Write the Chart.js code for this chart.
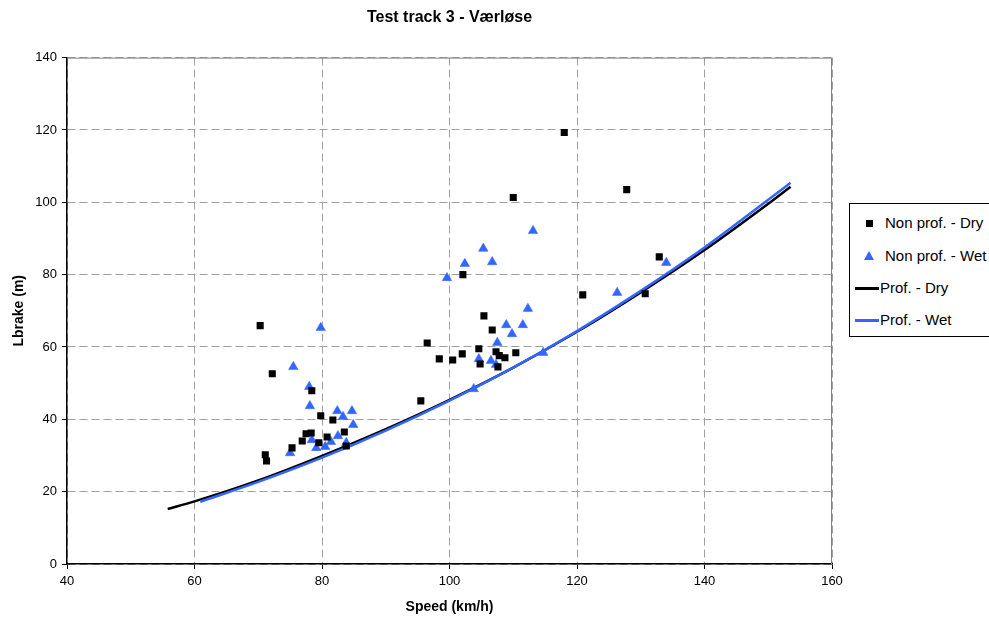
<!DOCTYPE html>
<html>
<head>
<meta charset="utf-8">
<script src="https://cdn.jsdelivr.net/npm/chart.js@4/dist/chart.umd.min.js"></script>
<style>
    html, body { margin: 0; padding: 0; background: #fff; overflow: hidden; }
    #wrap { position: relative; width: 989px; height: 621px; }
    #legend {
        position: absolute; left: 849px; top: 203px; width: 170px; height: 134px;
        border: 1px solid #000; box-sizing: border-box; background: #fff;
        font-family: 'Liberation Sans', Arial, sans-serif; font-size: 15px; color: #000;
    }
    .item { position: absolute; left: 0; height: 18px; line-height: 18px; white-space: nowrap; }
    .item span.txt { position: absolute; top: 0; }
</style>
</head>
<body>
<div id="wrap">
    <canvas id="brakeChart" width="989" height="621"></canvas>
    <div id="legend"></div>
</div>
<script>
// Non professional drivers, dry road
const dryNonProfSpeed = [70.3, 72.2, 71.1, 71.3, 75.3, 76.9, 77.5, 78.3, 78.4, 79.8, 80.8, 81.7, 83.5, 79.5, 83.8,
    95.5, 96.5, 98.4, 100.5, 102.0, 102.1, 104.6, 104.8, 105.4, 106.7, 107.3, 107.6, 107.8, 108.7, 110.0, 110.4,
    118.0, 120.9, 127.8, 130.7, 132.9];
const dryNonProfBrake = [65.9, 52.6, 30.2, 28.5, 32.1, 34.0, 36.0, 36.2, 47.9, 41.0, 35.1, 39.8, 36.5, 33.5, 32.6,
    45.1, 61.1, 56.7, 56.4, 58.1, 80.0, 59.5, 55.3, 68.6, 64.7, 58.7, 54.5, 57.6, 57.0, 101.3, 58.4,
    119.3, 74.4, 103.5, 74.7, 84.9];

// Non professional drivers, wet road
const wetNonProfSpeed = [75.0, 75.5, 78.0, 78.1, 78.4, 79.1, 79.8, 80.5, 81.4, 82.4, 82.5, 83.3, 83.8, 84.7, 84.9,
    99.6, 102.4, 103.8, 104.6, 105.3, 106.5, 106.7, 107.3, 107.5, 108.9, 109.8, 111.5, 112.3, 113.1, 114.7,
    126.3, 134.0];
const wetNonProfBrake = [30.7, 54.5, 49.0, 43.7, 34.3, 32.1, 65.3, 32.4, 33.8, 42.3, 35.4, 40.7, 33.5, 42.3, 38.5,
    79.1, 83.0, 48.4, 56.7, 87.2, 56.2, 83.5, 55.1, 61.2, 66.1, 63.6, 66.1, 70.6, 92.1, 58.4,
    75.0, 83.3];

// Professional drivers (curves)
const dryProfSpeed = [55.8, 60, 70, 80, 90, 100, 110, 120, 130, 140, 150, 153.5];
const dryProfBrake = [15.2, 17.3, 23.1, 29.9, 37.3, 45.4, 54.3, 64.2, 75.1, 86.8, 99.6, 104.3];
const wetProfSpeed = [60.9, 70, 80, 90, 100, 110, 120, 130, 140, 150, 153.5];
const wetProfBrake = [17.2, 22.7, 29.4, 36.9, 45.2, 54.3, 64.4, 75.5, 87.5, 100.7, 105.4];

const seriesNames = ['Non prof. - Dry', 'Non prof. - Wet', 'Prof. - Dry', 'Prof. - Wet'];

const toPoints = (xs, ys) => xs.map((x, i) => ({ x: x, y: ys[i] }));

const BLUE = '#3366FF';
const FONT = "'Liberation Sans', Arial, sans-serif";

// gray frame around the plot area (Excel style)
const plotFrame = {
    id: 'plotFrame',
    beforeDatasetsDraw(chart) {
        const a = chart.chartArea;
        const ctx = chart.ctx;
        ctx.save();
        ctx.strokeStyle = '#808080';
        ctx.lineWidth = 1;
        ctx.beginPath();
        ctx.moveTo(a.left, a.top + 0.5);
        ctx.lineTo(a.right - 0.5, a.top + 0.5);
        ctx.lineTo(a.right - 0.5, a.bottom);
        ctx.stroke();
        ctx.restore();
    }
};

const ctx = document.getElementById('brakeChart').getContext('2d');
const chart = new Chart(ctx, {
    type: 'scatter',
    data: {
        datasets: [
            {
                label: seriesNames[0],
                data: toPoints(dryNonProfSpeed, dryNonProfBrake),
                pointStyle: 'rect',
                pointRadius: 5,
                pointBorderWidth: 0,
                backgroundColor: '#000',
                borderColor: '#000',
                order: 0
            },
            {
                label: seriesNames[1],
                data: toPoints(wetNonProfSpeed, wetNonProfBrake),
                pointStyle: 'triangle',
                pointRadius: 5.5,
                pointBorderWidth: 0.5,
                backgroundColor: BLUE,
                borderColor: BLUE,
                order: 0
            },
            {
                label: seriesNames[2],
                data: toPoints(dryProfSpeed, dryProfBrake),
                showLine: true,
                borderColor: '#000',
                borderWidth: 2.5,
                pointRadius: 0,
                tension: 0.4,
                cubicInterpolationMode: 'monotone',
                order: 2
            },
            {
                label: seriesNames[3],
                data: toPoints(wetProfSpeed, wetProfBrake),
                showLine: true,
                borderColor: BLUE,
                borderWidth: 2.5,
                pointRadius: 0,
                tension: 0.4,
                cubicInterpolationMode: 'monotone',
                order: 1
            }
        ]
    },
    options: {
        responsive: false,
        animation: false,
        layout: {
            padding: { left: 0, right: 157, top: 0, bottom: 0 }
        },
        scales: {
            x: {
                type: 'linear',
                min: 40,
                max: 160,
                ticks: {
                    stepSize: 20,
                    color: '#000',
                    padding: 5,
                    font: { family: FONT, size: 13 }
                },
                grid: {
                    color: '#a0a0a0',
                    lineWidth: 1,
                    tickColor: '#000',
                    tickLength: 5,
                    tickBorderDash: []
                },
                border: { display: true, color: '#000', width: 1.5, dash: [8, 4] },
                title: {
                    display: true,
                    text: 'Speed (km/h)',
                    color: '#000',
                    font: { family: FONT, size: 14, weight: 'bold' },
                    padding: { top: 0, bottom: 5 }
                },
                afterFit(scale) { scale.height = 57; }
            },
            y: {
                type: 'linear',
                min: 0,
                max: 140,
                ticks: {
                    stepSize: 20,
                    color: '#000',
                    padding: 5,
                    font: { family: FONT, size: 13 }
                },
                grid: {
                    color: '#a0a0a0',
                    lineWidth: 1,
                    tickColor: '#000',
                    tickLength: 5,
                    tickBorderDash: []
                },
                border: { display: true, color: '#000', width: 1.5, dash: [8, 4] },
                title: {
                    display: true,
                    text: 'Lbrake (m)',
                    color: '#000',
                    font: { family: FONT, size: 14, weight: 'bold' },
                    padding: { top: 11, bottom: 0 }
                },
                afterFit(scale) { scale.width = 67; }
            }
        },
        plugins: {
            legend: { display: false },
            tooltip: { enabled: false },
            title: {
                display: true,
                fullSize: false,
                text: 'Test track 3 - Værløse',
                color: '#000',
                font: { family: FONT, size: 16, weight: 'bold' },
                padding: { top: 7.5, bottom: 30.9 }
            }
        }
    },
    plugins: [plotFrame]
});

// HTML legend built from the datasets
const legendEl = document.getElementById('legend');
const rowTops = [10, 43, 75, 107];
chart.data.datasets.forEach((ds, i) => {
    const row = document.createElement('div');
    row.className = 'item';
    row.style.top = rowTops[i] + 'px';
    let marker;
    if (i === 0) {
        marker = '<span style="position:absolute;left:16px;top:6px;width:7px;height:7px;background:#000"></span>';
    } else if (i === 1) {
        marker = '<span style="position:absolute;left:14px;top:4px;width:0;height:0;border-left:5px solid transparent;border-right:5px solid transparent;border-bottom:9px solid ' + BLUE + '"></span>';
    } else {
        marker = '<span style="position:absolute;left:5px;top:8px;width:24px;height:2.5px;background:' + ds.borderColor + '"></span>';
    }
    const textLeft = i < 2 ? 35 : 30;
    row.innerHTML = marker + '<span class="txt" style="left:' + textLeft + 'px">' + ds.label + '</span>';
    legendEl.appendChild(row);
});
</script>
</body>
</html>
